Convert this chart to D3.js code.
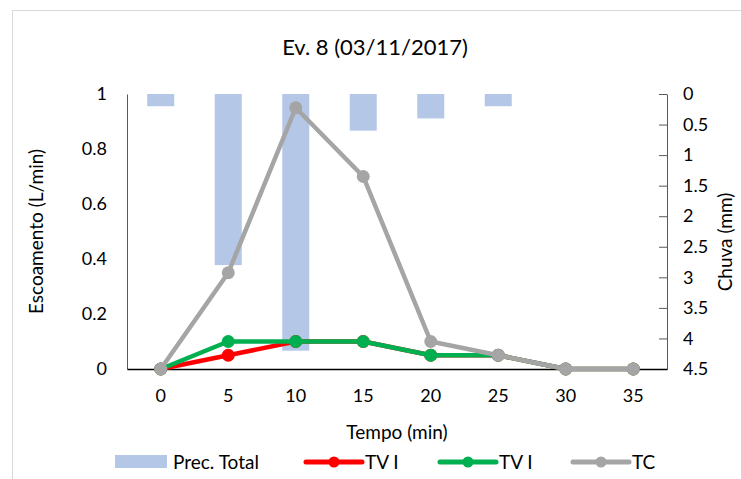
<!DOCTYPE html>
<html>
<head>
<meta charset="utf-8">
<script src="https://cdn.jsdelivr.net/npm/d3@7"></script>
<style>
  body { margin: 0; background: #fff; }
  svg text { font-family: Lato, "Open Sans", sans-serif; fill: #000; }
</style>
</head>
<body>
<svg id="chart"></svg>
<script>
"use strict";

// ---- data ----
const tempo = [0, 5, 10, 15, 20, 25, 30, 35];          // min
const precTotal = [0.2, 2.8, 4.2, 0.6, 0.4, 0.2, 0, 0];  // mm (right axis, reversed)
const tvIa = [0, 0.05, 0.1, 0.1, 0.05, 0.05, 0, 0];     // L/min
const tvIb = [0, 0.1, 0.1, 0.1, 0.05, 0.05, 0, 0];
const tc = [0, 0.35, 0.95, 0.7, 0.1, 0.05, 0, 0];
const leftTicks = [0, 0.2, 0.4, 0.6, 0.8, 1];
const rightTicks = [0, 0.5, 1, 1.5, 2, 2.5, 3, 3.5, 4, 4.5];

const series = [
  { name: "TV I", values: tvIa, color: "#FF0000" },
  { name: "TV I", values: tvIb, color: "#00B050" },
  { name: "TC", values: tc, color: "#A5A5A5" }
];

const W = 741, H = 479;
const plot = { left: 127, right: 667, top: 94, bottom: 369 };

const svg = d3.select("#chart").attr("width", W).attr("height", H);

// chart frame
svg.append("rect")
  .attr("x", 12.5).attr("y", 10.5)
  .attr("width", W).attr("height", H)
  .attr("fill", "#fff").attr("stroke", "#D9D9D9");

// ---- scales ----
const x = d3.scaleBand().domain(tempo).range([plot.left, plot.right]).padding(0);
const y = d3.scaleLinear().domain([0, 1]).range([plot.bottom, plot.top]);
const yR = d3.scaleLinear().domain([0, 4.5]).range([plot.top, plot.bottom]);
const barW = x.bandwidth() * 0.4;
const cx = d => x(d) + x.bandwidth() / 2;

// ---- bars (precipitation, hanging from top) ----
svg.append("g").selectAll("rect")
  .data(tempo.map((t, i) => ({ t, v: precTotal[i] })))
  .join("rect")
  .attr("x", d => cx(d.t) - barW / 2)
  .attr("y", yR(0))
  .attr("width", barW)
  .attr("height", d => yR(d.v) - yR(0))
  .attr("fill", "#B4C7E7");

// ---- axes ----
const fs = "18px";
const fmt = d => String(d);
const left = svg.append("g")
  .attr("transform", `translate(${plot.left},0)`)
  .call(d3.axisLeft(y).tickValues(leftTicks).tickSize(0).tickPadding(20).tickFormat(fmt));
left.select(".domain").attr("stroke", "#595959");
left.selectAll("text").style("font-size", fs);

const right = svg.append("g")
  .attr("transform", `translate(${plot.right},0)`)
  .call(d3.axisRight(yR).tickValues(rightTicks).tickSizeInner(-8).tickSizeOuter(0)
    .tickPadding(16).tickFormat(fmt));
right.select(".domain").attr("stroke", "#595959");
right.selectAll(".tick line").attr("stroke", "#595959");
right.selectAll("text").style("font-size", fs);

const bottom = svg.append("g")
  .attr("transform", `translate(0,${plot.bottom})`)
  .call(d3.axisBottom(x).tickSize(0).tickPadding(20));
bottom.select(".domain").attr("stroke", "#000").attr("stroke-width", 1.5);
bottom.selectAll("text").style("font-size", fs);

// ---- lines ----
const line = d3.line().x((d, i) => cx(tempo[i])).y(d => y(d));
series.forEach(s => {
  const g = svg.append("g");
  g.append("path")
    .attr("d", line(s.values))
    .attr("fill", "none")
    .attr("stroke", s.color)
    .attr("stroke-width", 4.5)
    .attr("stroke-linejoin", "round");
  g.selectAll("circle")
    .data(s.values)
    .join("circle")
    .attr("cx", (d, i) => cx(tempo[i]))
    .attr("cy", d => y(d))
    .attr("r", 6.5)
    .attr("fill", s.color);
});

// ---- titles ----
svg.append("text")
  .attr("x", 375).attr("y", 55)
  .attr("text-anchor", "middle")
  .style("font-size", "22px")
  .text("Ev. 8 (03/11/2017)");

svg.append("text")
  .attr("x", (plot.left + plot.right) / 2).attr("y", 439)
  .attr("text-anchor", "middle")
  .style("font-size", "19px")
  .text("Tempo (min)");

svg.append("text")
  .attr("transform", `translate(43,${(plot.top + plot.bottom) / 2}) rotate(-90)`)
  .attr("text-anchor", "middle")
  .style("font-size", "19px")
  .text("Escoamento (L/min)");

svg.append("text")
  .attr("transform", `translate(732,242) rotate(-90)`)
  .attr("text-anchor", "middle")
  .style("font-size", "19px")
  .text("Chuva (mm)");

// ---- legend ----
const ly = 462;
const lg = svg.append("g");
lg.append("rect").attr("x", 115).attr("y", ly - 7).attr("width", 52).attr("height", 13).attr("fill", "#B4C7E7");
lg.append("text").attr("x", 173).attr("y", ly + 7).style("font-size", "19px").text("Prec. Total");

const legendX = [306, 440, 573];
series.forEach((s, i) => {
  const x0 = legendX[i];
  lg.append("line").attr("x1", x0).attr("x2", x0 + 56).attr("y1", ly).attr("y2", ly)
    .attr("stroke", s.color).attr("stroke-width", 5).attr("stroke-linecap", "round");
  lg.append("circle").attr("cx", x0 + 28).attr("cy", ly).attr("r", 5.5).attr("fill", s.color);
  lg.append("text").attr("x", x0 + 59).attr("y", ly + 7).style("font-size", "19px").text(s.name);
});
</script>
</body>
</html>
